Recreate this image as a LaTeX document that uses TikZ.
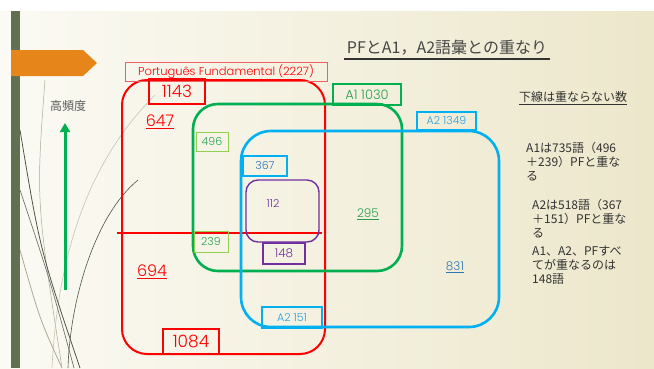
\documentclass[tikz,border=0pt]{standalone}
\usepackage{fontspec}
\setmainfont{Poppins}[UprightFont=* Light]
\newfontfamily\jp{Noto Sans CJK JP}
\usetikzlibrary{arrows.meta}
\definecolor{bgL}{RGB}{251,250,244}
\definecolor{bgR}{RGB}{236,231,203}
\definecolor{barG}{RGB}{96,112,80}
\definecolor{orng}{RGB}{230,134,26}
\definecolor{pfRed}{RGB}{255,0,0}
\definecolor{pfLight}{RGB}{240,96,96}
\definecolor{grn}{RGB}{0,176,80}
\definecolor{grnTxt}{RGB}{40,160,80}
\definecolor{ltGrn}{RGB}{146,208,80}
\definecolor{blu}{RGB}{0,176,240}
\definecolor{bluTxt}{RGB}{46,117,182}
\definecolor{bluLt}{RGB}{40,160,225}
\definecolor{purp}{RGB}{112,48,160}
\definecolor{txtGray}{RGB}{50,50,50}
\definecolor{grass1}{RGB}{80,85,70}
\definecolor{grass2}{RGB}{170,170,150}
\begin{document}
\begin{tikzpicture}[x=1pt,y=-1pt,
  lbox/.style={draw, inner sep=0pt, align=center},
  plain/.style={inner sep=0pt},
  fs/.style={font=\fontsize{#1}{#1}\selectfont},
  fsj/.style={font=\jp\fontsize{#1}{#1}\selectfont},
  venn/.style={line width=2.6pt}]
\useasboundingbox (0,0) rectangle (654,368);
\shade[left color=bgL, right color=bgR] (0,0) rectangle (654,368);
\fill[white] (0,0) rectangle (654,11);
% decorative strokes
\draw[grass2, line width=0.5pt] (45,80) .. controls (36,200) .. (62,368);
\draw[grass2!70, line width=0.6pt] (155,95) .. controls (90,160) and (58,250) .. (52,368);
\draw[grass1, line width=0.6pt] (138,180) .. controls (95,215) and (70,300) .. (68,368);
\draw[grass1, line width=0.8pt] (20,130) .. controls (40,250) .. (80,368);
\draw[grass1!80, line width=0.7pt] (20,190) .. controls (50,280) .. (74,368);
\draw[grass2, line width=0.8pt] (20,250) .. controls (40,320) .. (62,368);
\fill[barG] (11,11) rectangle (20,368);
\fill[orng] (11,50) -- (83,50) -- (97,63) -- (83,76) -- (11,76) -- cycle;
% venn boxes
\draw[pfRed, line width=2pt, rounded corners=25pt] (122,80) rectangle (325,354);
\draw[pfRed, line width=1.8pt] (117,233) -- (322,233);
\draw[grn, venn, rounded corners=25pt] (193,104) rectangle (402,271);
\draw[blu, venn, rounded corners=30pt] (241,131) rectangle (499,327);
\draw[purp, line width=1.4pt, rounded corners=12pt] (246,180) rectangle (319,242);
% labels
\node[lbox, draw=pfLight, line width=0.8pt, text=pfRed, fs=11.5, minimum width=202, minimum height=19] (pf) at (226,71.5) {Português Fundamental (2227)};
\node[lbox, draw=pfRed, line width=1.5pt, text=pfRed, fs=17, minimum width=56, minimum height=25] (n1143) at (177,91.5) {1143};
\node[plain, text=pfRed, fs=16] (n647) at (160,122) {\underline{647}};
\node[lbox, draw=grn, line width=1.3pt, text=grnTxt, fs=13, minimum width=68, minimum height=21] (a1) at (367,94.5) {A1 1030};
\node[lbox, draw=blu, line width=1.3pt, text=bluLt, fs=11, minimum width=59, minimum height=18] (a2) at (446.5,121) {A2 1349};
\node[lbox, draw=ltGrn, line width=1pt, text=grnTxt, fs=11, minimum width=32, minimum height=19] (n496) at (212,141.5) {496};
\node[lbox, draw=blu, line width=1.3pt, text=bluTxt, fs=11, minimum width=44, minimum height=20] (n367) at (265,166) {367};
\node[plain, text=purp, fs=11] (n112) at (273,203) {112};
\node[plain, text=grnTxt, fs=12] (n295) at (368,214) {\underline{295}};
\node[lbox, draw=ltGrn, line width=1pt, text=grnTxt, fs=11, minimum width=34, minimum height=21] (n239) at (211,241.5) {239};
\node[lbox, draw=purp, line width=1.5pt, text=purp, fs=12, minimum width=42, minimum height=21] (n148) at (284,253.5) {148};
\node[plain, text=pfRed, fs=16] (n694) at (152,272) {\underline{694}};
\node[plain, text=bluTxt, fs=12] (n831) at (455,267) {\underline{831}};
\node[lbox, draw=blu, line width=1.5pt, text=bluLt, fs=11, minimum width=60, minimum height=21] (a2b) at (292,317.5) {A2 151};
\node[lbox, draw=pfRed, line width=1.5pt, text=pfRed, fs=17, minimum width=56, minimum height=25] (n1084) at (191,341.5) {1084};
% side and titles
\node[plain, text=txtGray!80, fsj=12] (hf) at (68,106) {高頻度};
\coordinate (arrB) at (65,290);
\coordinate (arrT) at (65,123);
\draw[grn, line width=3pt, -{Triangle[width=10pt,length=9pt]}] (arrB) -- (arrT);
\node[plain, text=txtGray!90, fsj=16] (title) at (447,48) {PFとA1，A2語彙との重なり};
\coordinate (ulL) at (344,59);
\coordinate (ulR) at (550,59);
\draw[txtGray, line width=1.2pt] (ulL) -- (ulR);
\node[plain, text=txtGray, fsj=12] (note) at (573,98) {\underline{下線は重ならない数}};
\node[plain, text=txtGray, align=left, anchor=north west, font=\jp\fontsize{12}{14}\selectfont] (t1) at (526,142) {A1は735語（496\\＋239）PFと重な\\る};
\node[plain, text=txtGray, align=left, anchor=north west, font=\jp\fontsize{12}{14}\selectfont] (t2) at (532,199) {A2は518語（367\\＋151）PFと重な\\る};
\node[plain, text=txtGray, align=left, anchor=north west, font=\jp\fontsize{12}{14}\selectfont] (t3) at (532,246) {A1、A2、PFすべ\\てが重なるのは\\148語};
\end{tikzpicture}
\end{document}
